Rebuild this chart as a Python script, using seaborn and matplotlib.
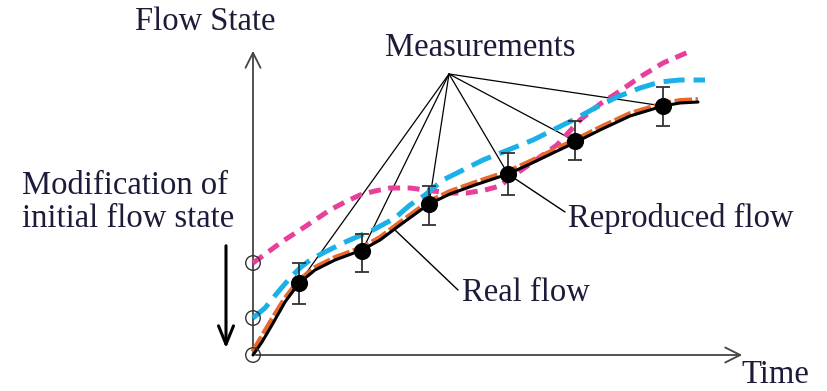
import matplotlib
matplotlib.use("Agg")
import matplotlib.pyplot as plt
import seaborn as sns
import pandas as pd

# ---- data (time, flow state in diagram units) ----
real_t = [0, 9, 19, 32, 46, 62, 82, 109, 127, 147, 176, 197, 222, 255, 277, 302, 321, 347, 377, 410, 427, 445]
real_s = [0, 13, 30, 53, 72, 85, 95, 105, 115, 130, 151, 161, 170, 181, 191, 203, 212, 225, 239, 249, 252, 253]
repro_t = [0, 9, 19, 32, 46, 62, 82, 109, 127, 147, 176, 197, 222, 255, 277, 302, 321, 347, 377, 410, 427, 445]
repro_s = [3, 18, 35, 56, 74, 87, 97, 107, 117, 132, 153, 163, 172, 183, 193, 205, 214, 227, 241, 251, 254, 255]
pink_t = [0, 15, 30, 47, 62, 77, 92, 107, 122, 137, 157, 180, 197, 214, 232, 247, 257, 280, 304, 327, 347, 367, 387, 410, 440]
pink_s = [92, 103, 114, 125, 135, 145, 153, 160, 164, 167, 167, 164, 162, 162, 165, 169, 177, 193, 210, 235, 251, 264, 278, 292, 305]
blue_t = [0, 12, 25, 37, 47, 57, 72, 90, 120, 142, 157, 172, 190, 210, 230, 255, 280, 300, 320, 342, 364, 387, 407, 427, 452]
blue_s = [37, 47, 63, 77, 87, 95, 103, 112, 125, 137, 150, 160, 175, 185, 195, 205, 215, 225, 235, 247, 258, 267, 273, 275, 275]
meas_t = [46, 109, 176, 255, 322, 410]
meas_s = [72, 104, 151, 181, 214, 249]
meas_hi = [92, 121, 169, 202, 234, 268]
meas_lo = [51, 83, 130, 160, 195, 229]
init_s = [0, 37, 92]

TXT = "#1c1c3a"
sns.set_theme(style="white")
plt.rcParams["font.family"] = ["Liberation Serif", "DejaVu Serif"]

fig = plt.figure(figsize=(8.28, 3.91), dpi=100)
ax = fig.add_axes([0, 0, 1, 1])
ax.set_xlim(-253, 575)
ax.set_ylim(-36, 355)
ax.axis("off")

# axes arrows
arrow_kw = dict(arrowstyle="->,head_length=0.9,head_width=0.45", color="#444444", lw=1.3)
ax.annotate("", xy=(0, 307), xytext=(0, 0), arrowprops=arrow_kw)
ax.annotate("", xy=(492, 0), xytext=(0, 0), arrowprops=arrow_kw)

# leader lines for measurements
apex = (196, 281)
for t, s in zip(meas_t, meas_s):
    ax.plot([apex[0], t], [apex[1], s], color="black", lw=0.9, zorder=2)

# curves
df_p = pd.DataFrame({"t": pink_t, "s": pink_s})
df_b = pd.DataFrame({"t": blue_t, "s": blue_s})
df_o = pd.DataFrame({"t": repro_t, "s": repro_s})
df_r = pd.DataFrame({"t": real_t, "s": real_s})
sns.lineplot(data=df_p, x="t", y="s", sort=False, ax=ax, color="#e8409a", lw=3.6,
             zorder=3).lines[-1].set_dashes([2.4, 1.5])
l = sns.lineplot(data=df_b, x="t", y="s", sort=False, ax=ax, color="#1ab0e8", lw=3.6, zorder=3).lines[-1]
l.set_dashes([4.2, 1.8])
l = sns.lineplot(data=df_o, x="t", y="s", sort=False, ax=ax, color="#e8692a", lw=4.2, zorder=4).lines[-1]
l.set_dashes([3, 0.6])
sns.lineplot(data=df_r, x="t", y="s", sort=False, ax=ax, color="black", lw=2.2, zorder=5)

# error bars and measurement dots
yerr = [[s - lo for s, lo in zip(meas_s, meas_lo)], [hi - s for s, hi in zip(meas_s, meas_hi)]]
ax.errorbar(meas_t, meas_s, yerr=yerr, fmt="none", ecolor="#333333", elinewidth=1.3,
            capsize=5, capthick=1.3, zorder=6)
sns.scatterplot(x=meas_t, y=meas_s, ax=ax, color="black", s=130, edgecolor="black", zorder=7)

# initial circles
sns.scatterplot(x=[0] * len(init_s), y=init_s, ax=ax, s=110, facecolor="none",
                edgecolor="#333333", linewidth=1.0, zorder=8)

# modification arrow
ax.annotate("", xy=(-27, 4), xytext=(-27, 112),
            arrowprops=dict(arrowstyle="->,head_length=1.1,head_width=0.45", color="black", lw=2.2))

fs = 23.5
ax.text(-48, 333, "Flow State", ha="center", va="center", fontsize=fs, color=TXT)
ax.text(522, -20, "Time", ha="center", va="center", fontsize=fs, color=TXT)
ax.text(227, 307, "Measurements", ha="center", va="center", fontsize=fs, color=TXT)
ax.text(-231, 153, "Modification of\ninitial flow state", ha="left", va="center",
        fontsize=fs, color=TXT, linespacing=1.1)

ax.plot([255, 312], [181, 143], color="black", lw=1.0, zorder=2)
ax.text(315, 137, "Reproduced flow", ha="left", va="center", fontsize=fs, color=TXT)
ax.plot([142, 205], [125, 65], color="black", lw=1.0, zorder=2)
ax.text(209, 62, "Real flow", ha="left", va="center", fontsize=fs, color=TXT)

fig.savefig("out.png", dpi=100)
